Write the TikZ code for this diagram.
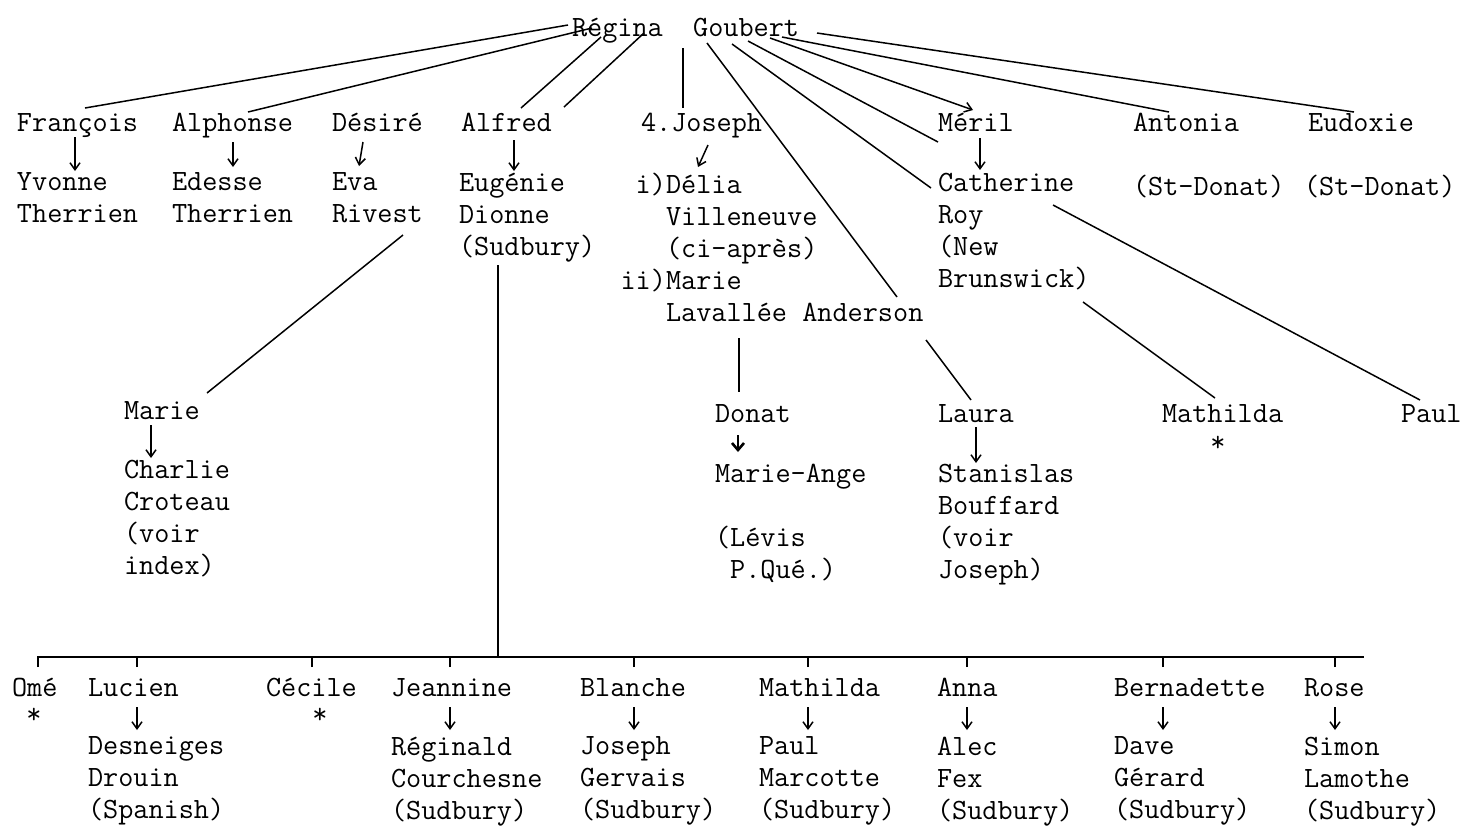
\documentclass[tikz,border=0pt]{standalone}
\usetikzlibrary{arrows.meta,calc}
\newcommand\tfnt{\fontsize{14.7}{16}\selectfont\ttfamily}
\begin{document}
\begin{tikzpicture}[x=0.5pt,y=-0.5pt,
  t/.style={anchor=north west,inner sep=0pt,outer sep=0pt,align=left,font=\tfnt,execute at begin node={\rule{0pt}{11.2pt}}},
  ln/.style={line width=0.75pt},
  arr/.style={ln,-{Straight Barb[length=3.5pt,width=5pt]}},
  boldarr/.style={line width=1.3pt,-{Straight Barb[length=3.5pt,width=6pt]}},
  star/.style={inner sep=0pt,font=\tfnt}]
\useasboundingbox (0,0) rectangle (1466,827);
% generation 1
\node[t] (rg) at (572,14) {Régina\ \ Goubert};
% generation 2
\node[t] (fr) at (17,109) {François};
\node[t] (al) at (172,109) {Alphonse};
\node[t] (de) at (332,109) {Désiré};
\node[t] (af) at (461,109) {Alfred};
\node[t] (jo) at (641,109) {4.Joseph};
\node[t] (me) at (938,109) {Méril};
\node[t] (an) at (1133,109) {Antonia};
\node[t] (ex) at (1308,109) {Eudoxie};
% spouses
\node[t] (yv) at (17,173) {Yvonne\\Therrien};
\node[t] (ed) at (172,173) {Edesse\\Therrien};
\node[t] (ev) at (332,173) {Eva\\Rivest};
\node[t] (eu) at (459,173) {Eugénie\\Dionne\\(Sudbury)};
\node[t] (jb) at (666,173) {\llap{i)}Délia\\Villeneuve\\(ci-après)\\\llap{ii)}Marie\\Lavallée Anderson};
\node[t] (ca) at (938,173) {Catherine\\Roy\\(New\\Brunswick)};
\node[t] (sd1) at (1133,173) {(St-Donat)};
\node[t] (sd2) at (1304,173) {(St-Donat)};
% generation 3 (middle)
\node[t] (ma) at (124,397) {Marie};
\node[t] (ch) at (124,460) {Charlie\\Croteau\\(voir\\index)};
\node[t] (do) at (715,400) {Donat};
\node[t] (mg) at (715,464) {Marie-Ange\\\strut\\(Lévis\\\phantom{(}P.Qué.)};
\node[t] (la) at (938,400) {Laura};
\node[t] (st) at (938,464) {Stanislas\\Bouffard\\(voir\\Joseph)};
\node[t] (mt) at (1162,400) {Mathilda};
\node[star] (mts) at (1218,444) {*};
\node[t] (pa) at (1401,400) {Paul};
% generation 3 (bottom, children of Alfred)
\node[t] (om) at (12,674) {Omé};
\node[star] (oms) at (34,716) {*};
\node[t] (lu) at (88,674) {Lucien};
\node[t] (ce) at (266,674) {Cécile};
\node[star] (ces) at (320,716) {*};
\node[t] (je) at (391,674) {Jeannine};
\node[t] (bl) at (580,674) {Blanche};
\node[t] (mh) at (759,674) {Mathilda};
\node[t] (ann) at (937,674) {Anna};
\node[t] (be) at (1114,674) {Bernadette};
\node[t] (ro) at (1304,674) {Rose};
\node[t] (dn) at (88,737) {Desneiges\\Drouin\\(Spanish)};
\node[t] (rc) at (391,737) {Réginald\\Courchesne\\(Sudbury)};
\node[t] (jg) at (580,737) {Joseph\\Gervais\\(Sudbury)};
\node[t] (pm) at (759,737) {Paul\\Marcotte\\(Sudbury)};
\node[t] (alx) at (937,737) {Alec\\Fex\\(Sudbury)};
\node[t] (dg) at (1114,737) {Dave\\Gérard\\(Sudbury)};
\node[t] (sl) at (1304,737) {Simon\\Lamothe\\(Sudbury)};

% lines from Régina Goubert
\draw[ln] ([shift={(-4,11)}]rg.north west) -- ([shift={(68,-1)}]fr.north west);
\draw[ln] ([shift={(20,14)}]rg.north west) -- ([shift={(76,3)}]al.north west);
\draw[ln] ([shift={(29,23)}]rg.north west) -- ([shift={(60,-1)}]af.north west);
\draw[ln] ([shift={(72,19)}]rg.north west) -- ([shift={(103,-2)}]af.north west);
\draw[ln] ([shift={(111,34)}]rg.north west) -- ([shift={(42,-1)}]jo.north west);
\draw[ln] ([shift={(135,29)}]rg.north west) -- ([shift={(231,124)}]jb.north west);
\draw[ln] ([shift={(160,30)}]rg.north west) -- ([shift={(-7,15)}]ca.north west);
\draw[ln] ([shift={(176,27)}]rg.north west) -- ([shift={(0,-31)}]ca.north west);
\draw[arr] ([shift={(198,24)}]rg.north west) -- ([shift={(35,1)}]me.north west);
\draw[ln] ([shift={(210,23)}]rg.north west) -- ([shift={(36,3)}]an.north west);
\draw[ln] ([shift={(245,19)}]rg.north west) -- ([shift={(46,3)}]ex.north west);

% marriage arrows
\draw[arr] ([shift={(58,28)}]fr.north west) -- ([shift={(58,-2)}]yv.north west);
\draw[arr] ([shift={(61,33)}]al.north west) -- ([shift={(61,-6)}]ed.north west);
\draw[arr] ([shift={(31,33)}]de.north west) -- ([shift={(27,-7)}]ev.north west);
\draw[arr] ([shift={(53,31)}]af.north west) -- ([shift={(55,-2)}]eu.north west);
\draw[arr] ([shift={(67,36)}]jo.north west) -- ([shift={(32,-6)}]jb.north west);
\draw[arr] ([shift={(42,29)}]me.north west) -- ([shift={(42,-3)}]ca.north west);

% middle generation
\draw[ln] ([shift={(71,62)}]ev.north west) -- ([shift={(83,-4)}]ma.north west);
\draw[arr] ([shift={(27,28)}]ma.north west) -- ([shift={(27,-2)}]ch.north west);
\draw[ln] ([shift={(73,165)}]jb.north west) -- ([shift={(24,-8)}]do.north west);
\draw[ln] ([shift={(260,167)}]jb.north west) -- ([shift={(33,0)}]la.north west);
\draw[boldarr] ([shift={(23,35)}]do.north west) -- ([shift={(23,-12)}]mg.north west);
\draw[arr] ([shift={(38,27)}]la.north west) -- ([shift={(38,-1)}]st.north west);
\draw[ln] ([shift={(145,129)}]ca.north west) -- ([shift={(53,-2)}]mt.north west);
\draw[ln] ([shift={(115,32)}]ca.north west) -- ([shift={(19,0)}]pa.north west);

% Alfred's children
\coordinate (br) at (1364,657);
\coordinate (eud) at ([shift={(39,92)}]eu.north west);
\draw[ln] (eud) -- (eud |- br);
\draw[ln] ([shift={(26,-7)}]om.north west) |- (br);
\foreach \n/\d in {lu/49,ce/46,je/59,bl/54,mh/49,ann/30,be/49,ro/31}
  \draw[ln] ([shift={(\d,-7)}]\n.north west) -- ++(0,-10);
\foreach \p/\c/\d in {lu/dn/49,je/rc/59,bl/jg/54,mh/pm/49,ann/alx/30,be/dg/49,ro/sl/31}
  \draw[arr] ([shift={(\d,33)}]\p.north west) -- ([shift={(\d,-7)}]\c.north west);
\end{tikzpicture}
\end{document}
